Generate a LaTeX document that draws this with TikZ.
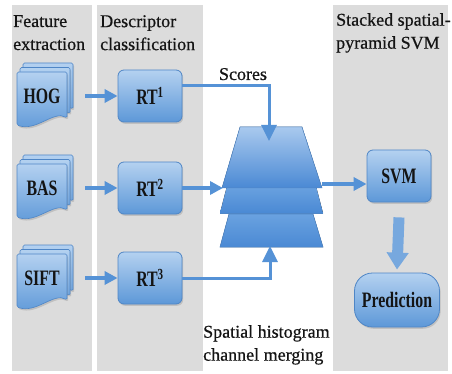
\documentclass[tikz,border=0pt]{standalone}
\usepackage{fontspec}
\setmainfont{Liberation Serif}
\newfontfamily\headfont[FakeBold=0.6]{Liberation Serif}
\newfontfamily\lblfont[FakeStretch=0.72]{Liberation Serif}
\usepackage{tikz}
\usetikzlibrary{arrows.meta,positioning,calc,shadows}
\definecolor{panelgray}{HTML}{DCDCDC}
\definecolor{boxtop}{HTML}{B4D1F0}
\definecolor{boxbot}{HTML}{5D98D8}
\definecolor{boxline}{HTML}{4F86C6}
\definecolor{flowblue}{HTML}{5592D6}
\definecolor{pyrlight}{HTML}{A9C9EE}
\definecolor{pyrmid}{HTML}{6AA2E0}
\definecolor{pyrdark}{HTML}{4A89D4}
\definecolor{txtdark}{HTML}{141414}
\tikzset{
  panel/.style={fill=panelgray},
  head/.style={font=\headfont\fontsize{18}{23}\selectfont, text=txtdark, align=left, inner sep=0pt},
  lbl/.style={font=\lblfont\bfseries\fontsize{22}{24}\selectfont, text=txtdark},
  softshadow/.style={drop shadow={shadow xshift=1.2pt, shadow yshift=-1.8pt, opacity=0.3}},
  % a stacked document page
  page/.style={draw=boxline, line width=0.6pt, top color=boxtop, bottom color=boxbot,
    rounded corners=1.5pt, softshadow},
  docnode/.style={lbl, minimum width=50pt, minimum height=52pt, inner sep=0pt},
  rtbox/.style={lbl, draw=boxline, line width=0.8pt, rounded corners=6pt,
    top color=boxtop, bottom color=boxbot, minimum width=64pt, minimum height=52pt,
    inner sep=0pt, softshadow},
  predbox/.style={rtbox, rounded corners=18pt, minimum width=85pt, minimum height=54pt},
  % pyramid layers
  layer/.style={top color=pyrmid, bottom color=pyrdark},
  toplayer/.style={layer, top color=pyrlight, bottom color=pyrdark},
  rim/.style={draw=boxline, line width=0.5pt},
  flow/.style={-{Triangle[length=13pt,width=13pt]}, line width=3.5pt, color=flowblue},
  link/.style={-{Triangle[length=16pt,width=15pt]}, line width=3pt, color=flowblue},
  bigflow/.style={-{Triangle[length=17pt,width=21pt]}, line width=11pt, color=flowblue!80!white},
}
\begin{document}
\begin{tikzpicture}[x=1pt,y=-1pt]
  \useasboundingbox (0,0) rectangle (452,374);
  \fill[white] (0,0) rectangle (452,374);
  % stage panels
  \fill[panel] (12,5) rectangle (92,371);
  \fill[panel] (97,5) rectangle (203,371);
  \fill[panel] (333,5) rectangle (448,371);
  \node[head, anchor=north west] (hfeat) at (13,15) {Feature\\extraction};
  \node[head, anchor=north west] (hdesc) at (100,15) {Descriptor\\classification};
  \node[head, anchor=north west] (hsvm) at (336,13) {Stacked spatial-\\pyramid SVM};
  \node[head, anchor=north west] (hmerge) at (203,325) {Spatial histogram\\channel merging};
  \node[head, anchor=base] (scores) at (243,80) {Scores};

  % features and classifiers
  \foreach \nm/\rt/\cy/\txt/\sup in {hog/rt1/96/HOG/1, bas/rt2/188/BAS/2, sift/rt3/278/SIFT/3} {
    \foreach \k in {2,1,0} {
      \begin{scope}[shift={({42+\k*3},{\cy+2-\k*4.5})}]
        \draw[page] (-25,-26) -- (25,-26) -- (25,20) .. controls (12,12) and (-6,34) .. (-25,27) -- cycle;
      \end{scope}
    }
    \node[docnode] (\nm) at (42,\cy) {\txt};
    \node[rtbox] (\rt) at (150,\cy) {RT\textsuperscript{\sup}};
    \draw[flow, shorten <=18pt] (\nm.east) -- (\rt.west);
  }

  % pyramid
  \fill[layer] (229,214) -- (313,214) -- (323,247) -- (220,247) -- cycle;
  \fill[layer] (227,186) -- (316,186) -- (323,213) -- (220,213) -- cycle;
  \fill[toplayer] (240,127) -- (302,127) -- (322,188) -- (222,188) -- cycle;
  \draw[rim] (229,214) -- (313,214) -- (323,247) -- (220,247) -- cycle;
  \draw[rim] (220,213) -- (323,213);
  \draw[rim] (240,127) -- (302,127) -- (322,188) -- (222,188) -- cycle;
  \coordinate (pyrtop) at (269,141);
  \coordinate (pyrleft) at (223,189);
  \coordinate (pyrbot) at (270,246);
  \coordinate (pyrright) at (322,184);

  \node[rtbox] (svm) at (399,176) {SVM};
  \node[predbox] (pred) at (397,300) {Prediction};

  \draw[link] ([yshift=10pt]rt1.east) -| (pyrtop);
  \draw[flow] (rt2.east) -- (rt2.east -| pyrleft);
  \draw[link] (rt3.east) -| (pyrbot);
  \draw[flow] (pyrright) -- (svm.west |- pyrright);
  \draw[bigflow] ([yshift=-15pt]svm.south) -- ([yshift=3pt]pred.north);
\end{tikzpicture}
\end{document}
